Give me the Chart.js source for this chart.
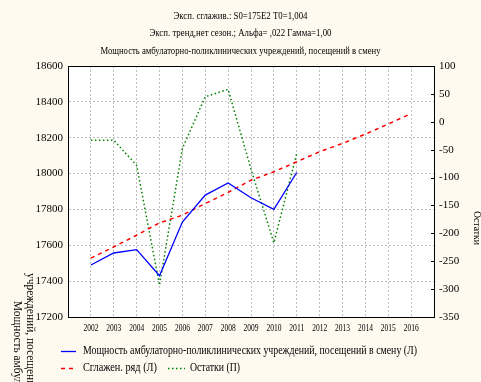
<!DOCTYPE html>
<html>
<head>
<meta charset="utf-8">
<script src="https://cdn.jsdelivr.net/npm/chart.js@4/dist/chart.umd.min.js"></script>
<style>
  html, body { margin: 0; padding: 0; background: #FFFAF0; }
  canvas { display: block; }
</style>
</head>
<body>
<canvas id="c" width="481" height="382"></canvas>
<script>
// ---- data ----
const titleLines = [
  'Эксп. сглажив.: S0=175E2 T0=1,004',
  'Эксп. тренд,нет сезон.; Альфа= ,022 Гамма=1,00',
  'Мощность амбулаторно-поликлинических учреждений, посещений в смену'
];
const xTickLabels = [2002, 2003, 2004, 2005, 2006, 2007, 2008, 2009, 2010, 2011, 2012, 2013, 2014, 2015, 2016];
const years = [2002, 2003, 2004, 2005, 2006, 2007, 2008, 2009, 2010, 2011];
const actual = [17490, 17557, 17576, 17430, 17730, 17880, 17948, 17865, 17800, 18006];
const smoothYears = [2002, 2003, 2004, 2005, 2006, 2007, 2008, 2009, 2010, 2011, 2012, 2013, 2014, 2015, 2016];
const smoothed = [17528, 17591, 17656, 17725, 17768, 17833, 17895, 17963, 18010, 18066, 18122, 18168, 18220, 18276, 18335];
const residuals = [-33, -33, -78, -293, -48, 45, 58, -85, -217, -57];
const seriesNames = [
  'Мощность амбулаторно-поликлинических учреждений, посещений в смену (Л)',
  'Сглажен. ряд (Л)',
  'Остатки (П)'
];
const leftAxisTitle = ['Мощность амбулаторно-поликлинических', 'учреждений, посещений в смену'];
const rightAxisTitle = 'Остатки';

const FONT = '"Liberation Serif", "Times New Roman", serif';

function fitText(ctx, text, x, y, width, size, align) {
  ctx.save();
  ctx.font = size + 'px ' + FONT;
  const w = ctx.measureText(text).width;
  const sx = width / w;
  ctx.translate(x, y);
  ctx.scale(sx, 1);
  ctx.textAlign = align || 'left';
  ctx.textBaseline = 'middle';
  ctx.fillStyle = '#000';
  ctx.fillText(text, 0, 0);
  ctx.restore();
}

const decor = {
  id: 'decor',
  beforeDraw(chart) {
    const { ctx, chartArea: a } = chart;
    ctx.save();
    ctx.fillStyle = '#FFFAF0';
    ctx.fillRect(0, 0, chart.width, chart.height);
    ctx.fillStyle = '#FFFFFF';
    ctx.fillRect(a.left, a.top, a.right - a.left, a.bottom - a.top);
    ctx.restore();
  },
  afterDraw(chart) {
    const { ctx, chartArea: a } = chart;
    ctx.save();
    // top border
    ctx.strokeStyle = '#000';
    ctx.lineWidth = 1;
    ctx.beginPath();
    ctx.moveTo(a.left, Math.round(a.top) + 0.5);
    ctx.lineTo(a.right, Math.round(a.top) + 0.5);
    ctx.stroke();
    // right axis small inner ticks
    const y1 = chart.scales.y1;
    y1.ticks.forEach(t => {
      const py = Math.round(y1.getPixelForValue(t.value)) + 0.5;
      ctx.beginPath();
      ctx.moveTo(a.right - 3, py);
      ctx.lineTo(a.right, py);
      ctx.stroke();
    });
    // x tick labels (condensed)
    const xs = chart.scales.x;
    xTickLabels.forEach(v => {
      fitText(ctx, String(v), xs.getPixelForValue(v), 328, 15, 11, 'center');
    });
    // titles
    const tw = [134, 182, 280];
    const ty = [16, 33.5, 51];
    titleLines.forEach((t, i) => fitText(ctx, t, chart.width / 2, ty[i], tw[i], 11, 'center'));
    // legend
    const ds = chart.data.datasets;
    const items = [
      { d: ds[0], sx: 61, ex: 76, y: 351, tx: 83, tw: 334 },
      { d: ds[1], sx: 61, ex: 76, y: 367.5, tx: 83, tw: 74 },
      { d: ds[2], sx: 168, ex: 185, y: 367.5, tx: 190, tw: 50 }
    ];
    items.forEach(it => {
      ctx.save();
      ctx.strokeStyle = it.d.borderColor;
      ctx.lineWidth = it.d.borderWidth;
      ctx.setLineDash(it.d.borderDash || []);
      ctx.beginPath();
      ctx.moveTo(it.sx, Math.round(it.y) + 0.5);
      ctx.lineTo(it.ex, Math.round(it.y) + 0.5);
      ctx.stroke();
      ctx.restore();
      fitText(ctx, it.d.label, it.tx, it.y, it.tw, 12, 'left');
    });
    // left axis title (clipped at bottom)
    ctx.save();
    ctx.font = '12px ' + FONT;
    ctx.fillStyle = '#000';
    ctx.textBaseline = 'middle';
    ctx.translate(17, 301);
    ctx.rotate(Math.PI / 2);
    ctx.scale(0.95, 1);
    ctx.fillText(leftAxisTitle[0], 0, 0);
    ctx.restore();
    ctx.save();
    ctx.font = '12px ' + FONT;
    ctx.fillStyle = '#000';
    ctx.textBaseline = 'middle';
    ctx.translate(30, 273);
    ctx.rotate(Math.PI / 2);
    ctx.scale(0.95, 1);
    ctx.fillText(leftAxisTitle[1], 0, 0);
    ctx.restore();
    // right axis title
    ctx.save();
    ctx.translate(477, 228);
    ctx.rotate(Math.PI / 2);
    fitText(ctx, rightAxisTitle, 0, 0, 34, 11, 'center');
    ctx.restore();
    ctx.restore();
  }
};

const gridColor = '#BDBDBD';

new Chart(document.getElementById('c'), {
  type: 'line',
  data: {
    datasets: [
      {
        label: seriesNames[0],
        data: years.map((x, i) => ({ x: x, y: actual[i] })),
        borderColor: '#0000FF',
        borderWidth: 1.3,
        pointRadius: 0,
        tension: 0,
        yAxisID: 'y'
      },
      {
        label: seriesNames[1],
        data: smoothYears.map((x, i) => ({ x: x, y: smoothed[i] })),
        borderColor: '#FF0000',
        borderWidth: 1.5,
        borderDash: [4, 4],
        pointRadius: 0,
        tension: 0,
        yAxisID: 'y'
      },
      {
        label: seriesNames[2],
        data: years.map((x, i) => ({ x: x, y: residuals[i] })),
        borderColor: '#008000',
        borderWidth: 1.5,
        borderDash: [1.5, 2.5],
        pointRadius: 0,
        tension: 0,
        yAxisID: 'y1'
      }
    ]
  },
  options: {
    responsive: false,
    animation: false,
    devicePixelRatio: 1,
    layout: { padding: { top: 66, left: 0, right: 0, bottom: 0 } },
    plugins: {
      legend: { display: false },
      title: { display: false },
      tooltip: { enabled: false }
    },
    scales: {
      x: {
        type: 'linear',
        min: 2001,
        max: 2017,
        afterBuildTicks: s => { s.ticks = xTickLabels.map(v => ({ value: v })); },
        afterFit: s => { s.height = 65; },
        ticks: { display: false },
        grid: { color: gridColor, drawTicks: false },
        border: { color: '#000', width: 1, dash: [2, 2] }
      },
      y: {
        position: 'left',
        min: 17200,
        max: 18600,
        afterFit: s => { s.width = 68; },
        ticks: {
          stepSize: 200,
          padding: 5,
          color: '#000',
          font: { family: FONT, size: 11 },
          callback: v => String(v)
        },
        grid: { color: gridColor, drawTicks: false },
        border: { color: '#000', width: 1, dash: [2, 2] }
      },
      y1: {
        position: 'right',
        min: -350,
        max: 100,
        afterFit: s => { s.width = 47; },
        ticks: {
          stepSize: 50,
          padding: 5,
          color: '#000',
          font: { family: FONT, size: 11 },
          callback: v => String(v)
        },
        grid: { drawOnChartArea: false, drawTicks: false },
        border: { color: '#000', width: 1 }
      }
    }
  },
  plugins: [decor]
});
</script>
</body>
</html>
